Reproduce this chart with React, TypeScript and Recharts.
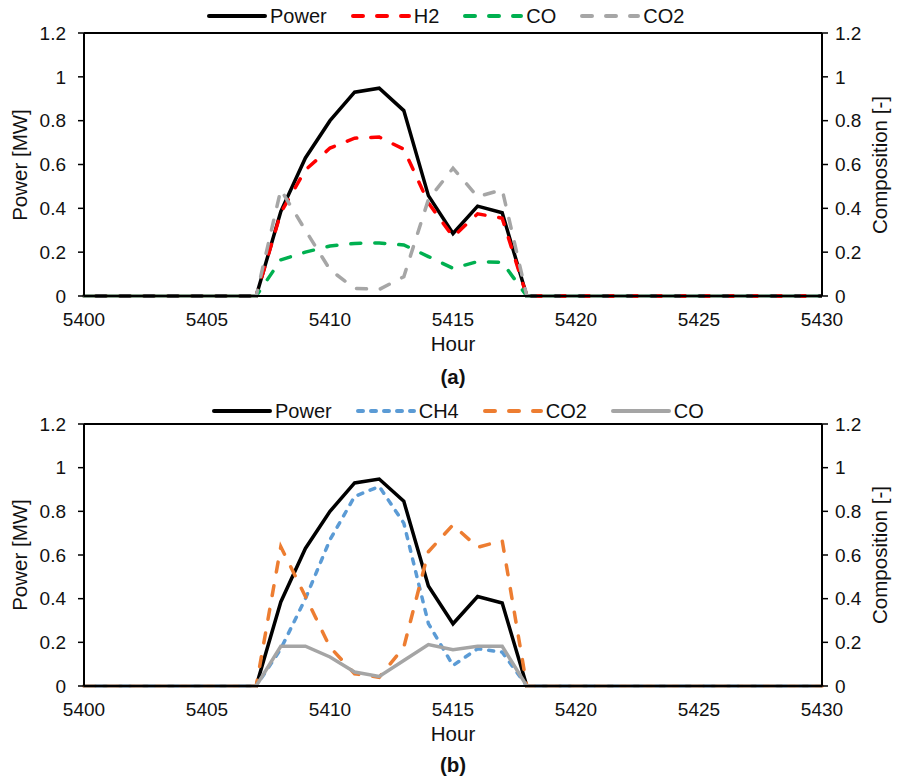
import React from 'react';
import { LineChart, Line, XAxis, YAxis, ReferenceLine } from 'recharts';

const hours = [5400, 5401, 5402, 5403, 5404, 5405, 5406, 5407, 5408, 5409, 5410, 5411, 5412, 5413, 5414, 5415, 5416, 5417, 5418, 5419, 5420, 5421, 5422, 5423, 5424, 5425, 5426, 5427, 5428, 5429, 5430];
const xTicks = [5400, 5405, 5410, 5415, 5420, 5425, 5430];
const yTicks = [0, 0.2, 0.4, 0.6, 0.8, 1, 1.2];

const powerMW = [0, 0, 0, 0, 0, 0, 0, 0, 0.385, 0.63, 0.8, 0.93, 0.948, 0.846, 0.458, 0.285, 0.41, 0.38, 0, 0, 0, 0, 0, 0, 0, 0, 0, 0, 0, 0, 0];

// (a)
const h2A = [0, 0, 0, 0, 0, 0, 0, 0, 0.38, 0.575, 0.675, 0.72, 0.725, 0.67, 0.425, 0.27, 0.375, 0.355, 0, 0, 0, 0, 0, 0, 0, 0, 0, 0, 0, 0, 0];
const coA = [0, 0, 0, 0, 0, 0, 0, 0, 0.165, 0.2, 0.228, 0.24, 0.242, 0.233, 0.18, 0.126, 0.157, 0.154, 0, 0, 0, 0, 0, 0, 0, 0, 0, 0, 0, 0, 0];
const co2A = [0, 0, 0, 0, 0, 0, 0, 0, 0.485, 0.3, 0.12, 0.035, 0.03, 0.088, 0.44, 0.583, 0.453, 0.485, 0, 0, 0, 0, 0, 0, 0, 0, 0, 0, 0, 0, 0];

// (b)
const ch4B = [0, 0, 0, 0, 0, 0, 0, 0, 0.17, 0.4, 0.67, 0.868, 0.914, 0.746, 0.286, 0.094, 0.171, 0.155, 0, 0, 0, 0, 0, 0, 0, 0, 0, 0, 0, 0, 0];
const co2B = [0, 0, 0, 0, 0, 0, 0, 0, 0.638, 0.41, 0.178, 0.056, 0.04, 0.178, 0.615, 0.738, 0.635, 0.666, 0, 0, 0, 0, 0, 0, 0, 0, 0, 0, 0, 0, 0];
const coB = [0, 0, 0, 0, 0, 0, 0, 0, 0.182, 0.182, 0.133, 0.064, 0.044, 0.117, 0.19, 0.166, 0.182, 0.182, 0, 0, 0, 0, 0, 0, 0, 0, 0, 0, 0, 0, 0];

const dataA = hours.map((h, i) => ({ hour: h, power: powerMW[i], h2: h2A[i], co: coA[i], co2: co2A[i] }));
const dataB = hours.map((h, i) => ({ hour: h, power: powerMW[i], ch4: ch4B[i], co2: co2B[i], co: coB[i] }));

const FONT = '"Liberation Sans", Arial, Helvetica, sans-serif';
const W = 900;
const H = 390;
const LW = 3.5;
const LONG_DASH = '10 14';
const SHORT_DASH = '5 8';

type LegendItem = { label: string; color: string; dash?: string };

const legendA: LegendItem[] = [
  { label: 'Power', color: '#000000' },
  { label: 'H2', color: '#ff0000', dash: LONG_DASH },
  { label: 'CO', color: '#00b050', dash: LONG_DASH },
  { label: 'CO2', color: '#a6a6a6', dash: LONG_DASH },
];
const legendB: LegendItem[] = [
  { label: 'Power', color: '#000000' },
  { label: 'CH4', color: '#5b9bd5', dash: SHORT_DASH },
  { label: 'CO2', color: '#ed7d31', dash: LONG_DASH },
  { label: 'CO', color: '#a5a5a5' },
];

function LegendRow({ items, left, cy }: { items: LegendItem[]; left: number; cy: number }) {
  return (
    <div
      style={{
        position: 'absolute',
        left,
        top: cy - 12,
        height: 24,
        display: 'flex',
        alignItems: 'center',
        fontFamily: FONT,
        fontSize: 20,
        color: '#111',
        whiteSpace: 'nowrap',
      }}
    >
      {items.map((it, i) => (
        <div key={it.label} style={{ display: 'flex', alignItems: 'center', marginRight: i < items.length - 1 ? 24 : 0 }}>
          <svg width={60} height={10} style={{ display: 'block' }}>
            <line
              x1={2}
              y1={5}
              x2={58}
              y2={5}
              stroke={it.color}
              strokeWidth={4}
              strokeLinecap="round"
              strokeDasharray={it.dash}
            />
          </svg>
          <span style={{ marginLeft: 3, lineHeight: '24px' }}>{it.label}</span>
        </div>
      ))}
    </div>
  );
}

const labelBase: React.CSSProperties = {
  position: 'absolute',
  fontFamily: FONT,
  fontSize: 20.5,
  lineHeight: '20px',
  color: '#111',
  whiteSpace: 'nowrap',
};

function Panel({
  top,
  plotTop,
  legend,
  legendLeft,
  legendY,
  tag,
  tagY,
  children,
  data,
}: {
  top: number;
  plotTop: number;
  legend: LegendItem[];
  legendLeft: number;
  legendY: number;
  tag: string;
  tagY: number;
  children: React.ReactNode;
  data: any[];
}) {
  const plotLeft = 84;
  const plotRight = 822;
  const plotBottom = 296;
  const cx = (plotLeft + plotRight) / 2;
  const cy = (plotTop + plotBottom) / 2;
  const tickStyle = { fontSize: 19, fill: '#111', fontFamily: FONT };
  return (
    <div style={{ position: 'absolute', left: 0, top, width: W, height: H }}>
      <LineChart
        width={W}
        height={H}
        data={data}
        margin={{ top: plotTop, right: 18, bottom: H - plotBottom - 30, left: 20 }}
      >
        <XAxis
          dataKey="hour"
          type="number"
          domain={[5400, 5430]}
          ticks={xTicks}
          allowDecimals={false}
          height={30}
          tickLine={false}
          tickSize={6}
          tickMargin={11}
          axisLine={{ stroke: '#000', strokeWidth: 2 }}
          tick={tickStyle}
          interval={0}
        />
        <YAxis
          yAxisId="left"
          orientation="left"
          width={64}
          domain={[0, 1.2]}
          ticks={yTicks}
          tickSize={6}
          tickMargin={12}
          interval={0}
          axisLine={{ stroke: '#000', strokeWidth: 2 }}
          tickLine={{ stroke: '#000', strokeWidth: 1.5 }}
          tick={tickStyle}
        />
        <YAxis
          yAxisId="right"
          orientation="right"
          width={60}
          domain={[0, 1.2]}
          ticks={yTicks}
          tickSize={6}
          tickMargin={7}
          interval={0}
          axisLine={{ stroke: '#000', strokeWidth: 2 }}
          tickLine={{ stroke: '#000', strokeWidth: 1.5 }}
          tick={tickStyle}
        />
        <ReferenceLine yAxisId="left" y={1.2} stroke="#000" strokeWidth={2} />
        {children}
      </LineChart>
      <LegendRow items={legend} left={legendLeft} cy={legendY} />
      <div style={{ ...labelBase, left: 20, top: cy, transform: 'translate(-50%, -50%) rotate(-90deg)' }}>Power [MW]</div>
      <div style={{ ...labelBase, left: 880, top: cy, transform: 'translate(-50%, -50%) rotate(-90deg)' }}>Composition [-]</div>
      <div style={{ ...labelBase, left: cx, top: 344, transform: 'translate(-50%, -50%)' }}>Hour</div>
      <div style={{ ...labelBase, left: cx, top: tagY, fontWeight: 'bold', transform: 'translate(-50%, -50%)' }}>{tag}</div>
    </div>
  );
}

export default function App() {
  return (
    <div style={{ position: 'absolute', left: 0, top: 0, width: W, height: 776, background: '#fff', overflow: 'hidden' }}>
      <Panel top={0} plotTop={33} legend={legendA} legendLeft={207} legendY={16} tag="(a)" tagY={377} data={dataA}>
        <Line yAxisId="left" type="linear" dataKey="power" stroke="#000" strokeWidth={LW} dot={false} isAnimationActive={false} />
        <Line yAxisId="right" type="linear" dataKey="h2" stroke="#ff0000" strokeWidth={LW} strokeDasharray={LONG_DASH} strokeLinecap="round" dot={false} isAnimationActive={false} />
        <Line yAxisId="right" type="linear" dataKey="co" stroke="#00b050" strokeWidth={LW} strokeDasharray={LONG_DASH} strokeLinecap="round" dot={false} isAnimationActive={false} />
        <Line yAxisId="right" type="linear" dataKey="co2" stroke="#a6a6a6" strokeWidth={LW} strokeDasharray={LONG_DASH} strokeLinecap="round" dot={false} isAnimationActive={false} />
      </Panel>
      <Panel top={390} plotTop={34} legend={legendB} legendLeft={212} legendY={21} tag="(b)" tagY={375} data={dataB}>
        <Line yAxisId="left" type="linear" dataKey="power" stroke="#000" strokeWidth={LW} dot={false} isAnimationActive={false} />
        <Line yAxisId="right" type="linear" dataKey="ch4" stroke="#5b9bd5" strokeWidth={LW} strokeDasharray={SHORT_DASH} strokeLinecap="round" dot={false} isAnimationActive={false} />
        <Line yAxisId="right" type="linear" dataKey="co2" stroke="#ed7d31" strokeWidth={LW} strokeDasharray={LONG_DASH} strokeLinecap="round" dot={false} isAnimationActive={false} />
        <Line yAxisId="right" type="linear" dataKey="co" stroke="#a5a5a5" strokeWidth={LW} dot={false} isAnimationActive={false} />
      </Panel>
    </div>
  );
}
